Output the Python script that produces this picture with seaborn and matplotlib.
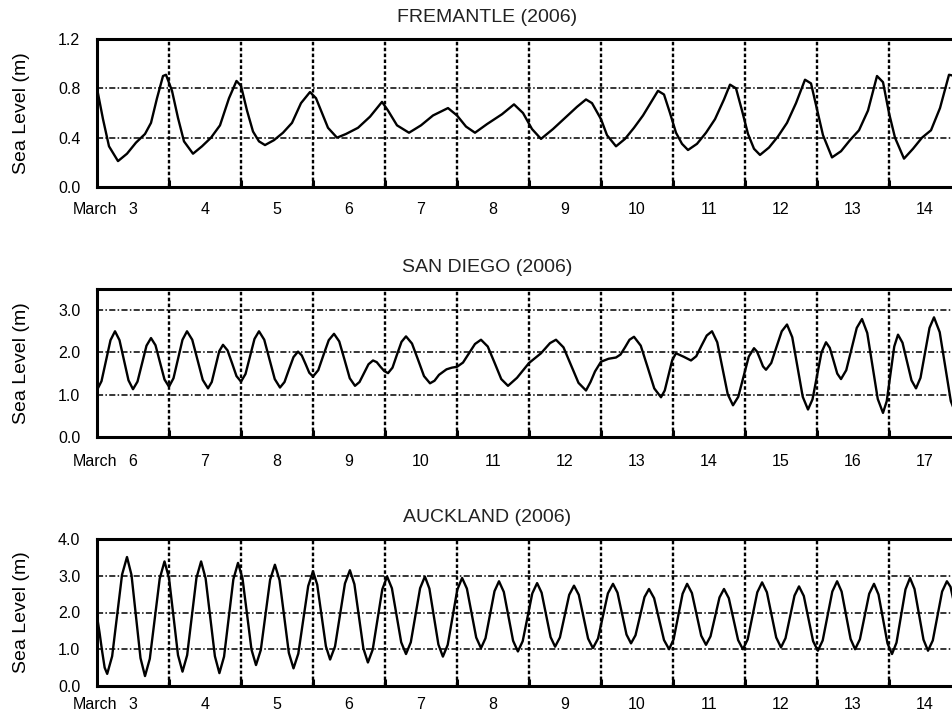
import numpy as np
import pandas as pd
import matplotlib
matplotlib.use("Agg")
import matplotlib.pyplot as plt
import seaborn as sns

# ---------------- data (hours since start of first day, sea level in m) ----------------
fre_title = "FREMANTLE (2006)"
fre_start_day = 3
fre_hours = [0, 2, 4, 7, 10, 13, 16, 18, 20, 22, 23, 25, 27, 29, 32, 35, 38, 41, 44, 46.5,
             48, 50, 52, 54, 56, 59, 62, 65, 68, 71, 73, 75, 77, 80, 83, 87, 91, 95, 97, 100,
             104, 108, 112, 117, 120, 123, 126, 130, 135, 139, 142, 145, 148, 152, 156, 160,
             163, 165, 168, 170, 173, 176, 179, 182, 185, 187, 189, 191, 193, 195, 197, 200,
             203, 206, 209, 211, 213, 215, 217, 219, 221, 224, 227, 230, 233, 236, 238, 240,
             242, 245, 248, 251, 254, 257, 260, 262, 264, 266, 269, 272, 275, 278, 281, 284,
             286, 288]
fre_level = [0.80, 0.55, 0.33, 0.21, 0.27, 0.36, 0.43, 0.52, 0.72, 0.90, 0.91, 0.78, 0.56, 0.37,
             0.27, 0.33, 0.40, 0.50, 0.72, 0.86, 0.82, 0.62, 0.45, 0.37, 0.34, 0.38, 0.44, 0.52,
             0.68, 0.77, 0.72, 0.60, 0.48, 0.40, 0.43, 0.48, 0.57, 0.69, 0.62, 0.50, 0.44, 0.50,
             0.58, 0.64, 0.58, 0.49, 0.44, 0.51, 0.59, 0.67, 0.60, 0.47, 0.39, 0.47, 0.56, 0.65,
             0.71, 0.68, 0.55, 0.42, 0.33, 0.39, 0.48, 0.58, 0.70, 0.78, 0.75, 0.60, 0.44, 0.35,
             0.30, 0.35, 0.44, 0.55, 0.71, 0.83, 0.80, 0.62, 0.43, 0.31, 0.26, 0.32, 0.41, 0.52,
             0.68, 0.87, 0.84, 0.63, 0.42, 0.24, 0.29, 0.38, 0.46, 0.62, 0.90, 0.85, 0.60, 0.40,
             0.23, 0.31, 0.40, 0.46, 0.64, 0.91, 0.90, 0.80]

sd_title = "SAN DIEGO (2006)"
sd_start_day = 6
sd_hours = [0, 1.5, 3, 4.5, 6, 7.5, 9, 10.5, 12, 13.5, 15, 16.5, 18, 19.5, 21, 22.5, 24, 25.5, 27,
            28.5, 30, 31.75, 33.5, 35.25, 37, 38.25, 39.5, 40.75, 42, 43.5, 45, 46.5, 48, 49.5,
            51, 52.5, 54, 55.75, 57.5, 59.25, 61, 62.5, 64, 65.5, 67, 68.25, 69.5, 70.75, 72,
            73.75, 75.5, 77.25, 79, 80.75, 82.5, 84.25, 86, 87.5, 89, 90.5, 92, 93.25, 94.5,
            95.75, 97, 98.5, 100, 101.5, 103, 105, 107, 109, 111, 112.5, 114, 116.5, 118.3, 120,
            122, 124, 126, 128, 130.25, 132.5, 134.75, 137, 140, 144, 148, 151, 153, 155.5, 158,
            160.5, 163, 164.5, 166, 168, 170.5, 173, 174.5, 176, 177.5, 179, 181.25, 183.5,
            185.75, 188, 189.25, 190.5, 191.75, 193, 195.5, 198, 199.75, 201.5, 203.25, 205,
            206.75, 208.5, 210.25, 212, 213.75, 215.5, 217.25, 219, 220, 221, 222, 223, 224.75,
            226.5, 228.25, 230, 231.75, 233.5, 235.25, 237, 238.5, 240, 241.5, 243, 244.25,
            245.5, 246.75, 248, 249.75, 251.5, 253.25, 255, 256.75, 258.5, 260.25, 262, 263.25,
            264.5, 265.75, 267, 268.5, 270, 271.5, 273, 274.5, 276, 277.5, 279, 280.9, 282.75,
            284.6, 286.5, 288]
sd_level = [1.11, 1.32, 1.81, 2.29, 2.50, 2.29, 1.82, 1.34, 1.13, 1.31, 1.74, 2.16, 2.34, 2.17,
            1.77, 1.36, 1.19, 1.39, 1.85, 2.30, 2.50, 2.30, 1.83, 1.35, 1.15, 1.30, 1.67, 2.03,
            2.18, 2.05, 1.75, 1.44, 1.31, 1.49, 1.91, 2.32, 2.50, 2.30, 1.84, 1.37, 1.17, 1.30,
            1.60, 1.89, 2.02, 1.93, 1.73, 1.52, 1.43, 1.58, 1.94, 2.29, 2.44, 2.26, 1.83, 1.39,
            1.21, 1.30, 1.51, 1.72, 1.81, 1.77, 1.66, 1.56, 1.51, 1.64, 1.95, 2.25, 2.38, 2.21,
            1.83, 1.44, 1.27, 1.33, 1.47, 1.60, 1.64, 1.66, 1.76, 1.98, 2.20, 2.30, 2.14, 1.76,
            1.37, 1.21, 1.40, 1.75, 1.98, 2.22, 2.30, 2.12, 1.70, 1.28, 1.10, 1.30, 1.55, 1.78,
            1.85, 1.88, 1.95, 2.12, 2.30, 2.37, 2.16, 1.66, 1.15, 0.94, 1.10, 1.46, 1.82, 1.98,
            1.90, 1.81, 1.91, 2.16, 2.40, 2.50, 2.24, 1.63, 1.01, 0.75, 0.95, 1.43, 1.90, 2.10,
            2.02, 1.85, 1.67, 1.59, 1.75, 2.13, 2.50, 2.66, 2.36, 1.66, 0.95, 0.65, 0.89, 1.45,
            2.00, 2.24, 2.11, 1.81, 1.50, 1.37, 1.58, 2.08, 2.58, 2.79, 2.46, 1.68, 0.90, 0.57,
            0.85, 1.50, 2.14, 2.42, 2.23, 1.79, 1.34, 1.15, 1.40, 1.99, 2.58, 2.83, 2.48, 1.67,
            0.85, 0.50, 0.62]

ak_title = "AUCKLAND (2006)"
ak_start_day = 3
ak_hours = [0, 0.85, 1.7, 2.55, 3.4, 5.05, 6.7, 8.35, 10, 11.5, 13, 14.5, 16, 17.6, 19.25, 20.9,
            22.5, 24, 25.5, 27, 28.5, 30.05, 31.6, 33.15, 34.7, 36.2, 37.75, 39.3, 40.8, 42.35,
            43.9, 45.45, 47, 48.5, 50, 51.5, 53, 54.6, 56.15, 57.7, 59.3, 60.85, 62.4, 63.95,
            65.5, 67.1, 68.75, 70.4, 72, 73.4, 74.85, 76.3, 77.7, 79.35, 81, 82.65, 84.3, 85.8,
            87.3, 88.8, 90.3, 91.9, 93.5, 95.1, 96.7, 98.3, 99.85, 101.4, 103, 104.6, 106.15,
            107.7, 109.3, 110.8, 112.3, 113.8, 115.3, 116.9, 118.5, 120.1, 121.7, 123.3, 124.85,
            126.4, 128, 129.5, 131, 132.5, 134, 135.6, 137.15, 138.7, 140.3, 141.9, 143.5,
            145.1, 146.7, 148.2, 149.7, 151.2, 152.7, 154.3, 155.85, 157.4, 159, 160.6, 162.15,
            163.7, 165.3, 167, 168.65, 170.3, 172, 173.5, 175, 176.5, 178, 179.5, 181, 182.5,
            184, 185.7, 187.35, 189, 190.7, 192.2, 193.7, 195.2, 196.7, 198.3, 199.85, 201.4,
            203, 204.5, 206, 207.5, 209, 210.6, 212.15, 213.7, 215.3, 216.9, 218.5, 220.1,
            221.7, 223.3, 224.85, 226.4, 228, 229.5, 231, 232.5, 234, 235.6, 237.15, 238.7,
            240.3, 241.9, 243.5, 245.1, 246.7, 248.2, 249.7, 251.2, 252.7, 254.3, 255.85, 257.4,
            259, 260.5, 262, 263.5, 265, 266.5, 268, 269.5, 271, 272.5, 274, 275.5, 277, 278.6,
            280.15, 281.7, 283.3, 284.5, 285.7, 286.9, 288]
ak_level = [1.90, 1.45, 0.95, 0.50, 0.33, 0.81, 1.92, 3.03, 3.51, 3.02, 1.89, 0.76, 0.27, 0.74,
            1.83, 2.92, 3.39, 2.94, 1.89, 0.84, 0.39, 0.84, 1.89, 2.94, 3.39, 2.93, 1.87, 0.81,
            0.35, 0.80, 1.85, 2.90, 3.35, 2.93, 1.96, 0.99, 0.57, 0.98, 1.94, 2.89, 3.30, 2.88,
            1.89, 0.90, 0.48, 0.88, 1.80, 2.72, 3.12, 2.76, 1.92, 1.08, 0.72, 1.08, 1.94, 2.79,
            3.15, 2.77, 1.90, 1.02, 0.64, 0.99, 1.81, 2.63, 2.98, 2.66, 1.93, 1.19, 0.87, 1.19,
            1.93, 2.66, 2.98, 2.65, 1.89, 1.13, 0.80, 1.12, 1.87, 2.62, 2.94, 2.65, 1.99, 1.32,
            1.03, 1.30, 1.94, 2.58, 2.85, 2.56, 1.90, 1.23, 0.94, 1.22, 1.87, 2.52, 2.80, 2.54,
            1.94, 1.33, 1.07, 1.32, 1.90, 2.48, 2.73, 2.48, 1.88, 1.29, 1.03, 1.29, 1.91, 2.52,
            2.78, 2.54, 1.97, 1.40, 1.16, 1.38, 1.90, 2.42, 2.64, 2.39, 1.82, 1.25, 1.00, 1.27,
            1.89, 2.51, 2.78, 2.53, 1.95, 1.37, 1.12, 1.35, 1.88, 2.41, 2.64, 2.39, 1.82, 1.25,
            1.00, 1.27, 1.91, 2.55, 2.82, 2.55, 1.94, 1.32, 1.05, 1.30, 1.88, 2.46, 2.71, 2.45,
            1.84, 1.22, 0.96, 1.24, 1.91, 2.57, 2.85, 2.57, 1.93, 1.28, 1.00, 1.27, 1.89, 2.51,
            2.78, 2.49, 1.83, 1.16, 0.87, 1.18, 1.91, 2.63, 2.94, 2.64, 1.95, 1.26, 0.96, 1.24,
            1.91, 2.57, 2.85, 2.70, 2.25, 1.75, 1.30]

fre_yticks = [0.0, 0.4, 0.8, 1.2]
sd_yticks = [0.0, 1.0, 2.0, 3.0]
ak_yticks = [0.0, 1.0, 2.0, 3.0, 4.0]
n_days = 12

# ---------------- styling ----------------
sns.set_theme(style="white")
plt.rcParams["font.family"] = ["Liberation Sans", "DejaVu Sans"]

W, H = 952, 713
fig = plt.figure(figsize=(W / 100, H / 100), dpi=100, facecolor="white")

panels = [
    dict(title=fre_title, day0=fre_start_day, hours=fre_hours, level=fre_level,
         yticks=fre_yticks, ylim=(0, 1.2), top=39, bottom=187, xpad=11),
    dict(title=sd_title, day0=sd_start_day, hours=sd_hours, level=sd_level,
         yticks=sd_yticks, ylim=(0, 3.5), top=289, bottom=437, xpad=12.5),
    dict(title=ak_title, day0=ak_start_day, hours=ak_hours, level=ak_level,
         yticks=ak_yticks, ylim=(0, 4.0), top=539, bottom=686, xpad=8),
]

left_px = 97
day_px = 72
for p in panels:
    h = p["bottom"] - p["top"]
    ax = fig.add_axes([left_px / W, 1 - p["bottom"] / H, n_days * day_px / W, h / H])
    d0 = p["day0"]
    df = pd.DataFrame({"day": d0 + np.asarray(p["hours"]) / 24.0, "level": p["level"]})
    sns.lineplot(data=df, x="day", y="level", ax=ax, color="black", linewidth=1.7,
                 estimator=None, sort=False, solid_joinstyle="round", solid_capstyle="round")
    ax.set_xlim(d0, d0 + n_days)
    ax.set_ylim(*p["ylim"])

    # labels at mid-day, grid at midnights
    ax.set_xticks([d0 + i + 0.5 for i in range(n_days)])
    ax.set_xticklabels([str(d0 + i) for i in range(n_days)])
    ax.set_xticks([d0 + i for i in range(1, n_days)], minor=True)
    ax.set_yticks(p["yticks"])
    ax.set_yticklabels([f"{v:.1f}" for v in p["yticks"]])

    ax.tick_params(axis="x", which="major", length=0, pad=p["xpad"], labelsize=11.5,
                   colors="black")
    ax.tick_params(axis="x", which="minor", direction="in", length=5, width=2.2,
                   bottom=True, top=False, color="black")
    ax.tick_params(axis="y", which="major", length=0, pad=12, labelsize=11.5, colors="black")

    ax.grid(False)
    ax.grid(True, which="minor", axis="x", color="black", linewidth=1.7,
            linestyle=(0, (1.5, 1.0)))
    ax.grid(True, which="major", axis="y", color="black", linewidth=1.1,
            linestyle=(0, (4, 1.5, 1, 1.5)))
    ax.set_axisbelow(True)

    for s in ax.spines.values():
        s.set_visible(True)
        s.set_color("black")
        s.set_linewidth(2.2)

    ax.set_xlabel("")
    ax.set_ylabel("Sea Level (m)", fontsize=14, color="black")
    ax.yaxis.set_label_coords(-(left_px - 30) / (n_days * day_px), 0.5)
    ax.set_title(p["title"], fontsize=14, color="#222222", pad=12)
    ax.title.set_position(((487 - left_px) / (n_days * day_px), 1.0))

    ax.annotate("March", xy=(d0 + 0.28, 0), xycoords=("data", "axes fraction"),
                xytext=(0, -p["xpad"]), textcoords="offset points",
                ha="right", va="top", fontsize=11.5, color="black")

fig.savefig("out.png", dpi=100, facecolor="white")
